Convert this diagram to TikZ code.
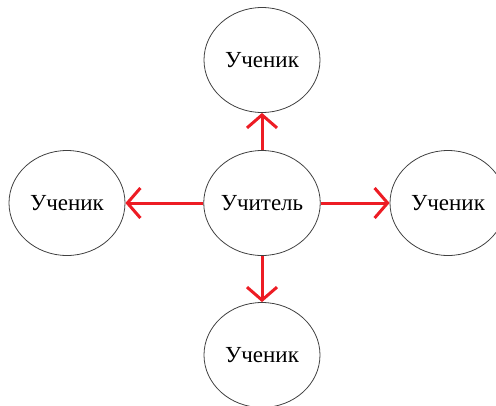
\documentclass[tikz,border=0pt]{standalone}
\usepackage{fontspec}
\setmainfont{Liberation Serif}
\usetikzlibrary{shapes.geometric,arrows.meta}
\definecolor{paintred}{RGB}{237,28,36}

\begin{document}
\begin{tikzpicture}[x=1pt,y=-1pt,
    pupil/.style={ellipse,draw=black!75,line width=0.8pt,inner sep=0pt,
        minimum width=116pt,minimum height=105pt,font=\fontsize{23}{26}\selectfont},
    link/.style={draw=paintred,line width=3pt,
        -{Straight Barb[length=13pt,width=30pt,line width=3pt]}}]
    \useasboundingbox (0,0) rectangle (496,405);
    \clip (0,0) rectangle (496,405);
    \node[pupil] (teacher) at (262,203) {Учитель};
    \node[pupil] (top) at (262,60) {Ученик};
    \node[pupil] (left) at (67,203) {Ученик};
    \node[pupil] (right) at (448,203) {Ученик};
    \node[pupil] (bottom) at (262,355) {Ученик};
    \foreach \s in {top,left,right,bottom}
        \draw[link] (teacher) -- (\s);
\end{tikzpicture}
\end{document}
